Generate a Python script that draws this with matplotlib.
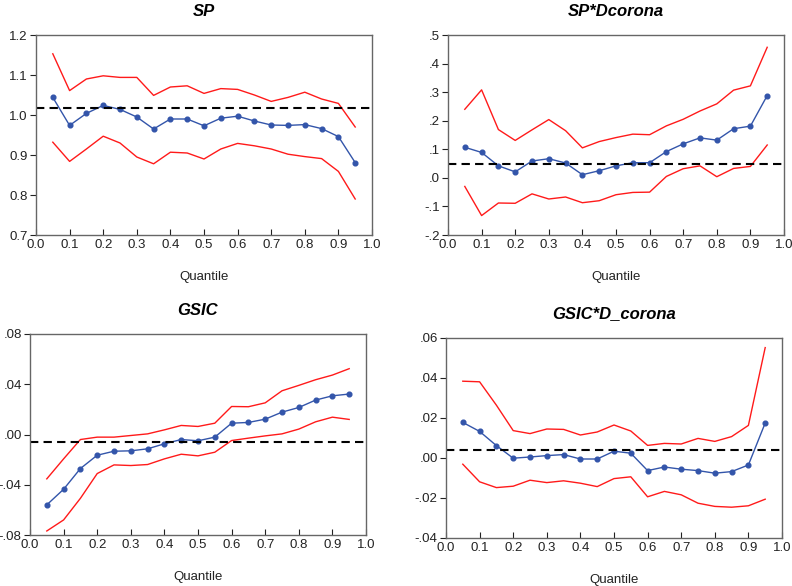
import matplotlib
matplotlib.use("Agg")
import matplotlib.pyplot as plt
from matplotlib.ticker import FuncFormatter

plt.rcParams['font.family'] = ['Liberation Sans', 'DejaVu Sans']

quantiles = [0.05, 0.10, 0.15, 0.20, 0.25, 0.30, 0.35, 0.40, 0.45, 0.50,
             0.55, 0.60, 0.65, 0.70, 0.75, 0.80, 0.85, 0.90, 0.95]

# SP
sp_coef = [1.044, 0.974, 1.004, 1.024, 1.014, 0.995, 0.965, 0.990, 0.990, 0.973,
           0.992, 0.997, 0.985, 0.975, 0.974, 0.976, 0.966, 0.946, 0.881]
sp_upper = [1.153, 1.061, 1.090, 1.098, 1.094, 1.094, 1.049, 1.070, 1.073, 1.054,
            1.066, 1.064, 1.050, 1.034, 1.044, 1.057, 1.040, 1.029, 0.970]
sp_lower = [0.932, 0.884, 0.915, 0.947, 0.930, 0.895, 0.878, 0.907, 0.905, 0.890,
            0.915, 0.929, 0.923, 0.915, 0.902, 0.896, 0.891, 0.859, 0.790]
sp_ols = 1.018

# SP*Dcorona
spd_coef = [0.107, 0.089, 0.042, 0.021, 0.059, 0.067, 0.052, 0.011, 0.025, 0.042,
            0.053, 0.053, 0.092, 0.119, 0.140, 0.132, 0.172, 0.181, 0.288]
spd_upper = [0.240, 0.308, 0.169, 0.131, 0.168, 0.204, 0.165, 0.105, 0.127, 0.141,
             0.153, 0.151, 0.182, 0.205, 0.234, 0.259, 0.307, 0.322, 0.457]
spd_lower = [-0.030, -0.132, -0.088, -0.089, -0.056, -0.074, -0.067, -0.087, -0.080, -0.059,
             -0.051, -0.050, 0.005, 0.032, 0.042, 0.004, 0.033, 0.040, 0.115]
spd_ols = 0.047

# GSIC
gs_coef = [-0.0560, -0.0436, -0.0271, -0.0165, -0.0133, -0.0130, -0.0114, -0.0074, -0.0040, -0.0050,
           -0.0021, 0.0090, 0.0096, 0.0122, 0.0178, 0.0215, 0.0274, 0.0308, 0.0322]
gs_upper = [-0.0353, -0.0194, -0.0040, -0.0021, -0.0021, -0.0008, 0.0005, 0.0037, 0.0072, 0.0064,
            0.0090, 0.0223, 0.0221, 0.0252, 0.0348, 0.0391, 0.0436, 0.0473, 0.0524]
gs_lower = [-0.0768, -0.0680, -0.0508, -0.0311, -0.0242, -0.0247, -0.0239, -0.0194, -0.0157, -0.0170,
            -0.0141, -0.0048, -0.0029, -0.0011, 0.0005, 0.0043, 0.0101, 0.0138, 0.0120]
gs_ols = -0.0058

# GSIC*D_corona
gsd_coef = [0.0178, 0.0133, 0.0062, -0.0001, 0.0005, 0.0012, 0.0017, -0.0005, -0.0005, 0.0034,
            0.0024, -0.0063, -0.0045, -0.0056, -0.0063, -0.0076, -0.0068, -0.0035, 0.0175]
gsd_upper = [0.0384, 0.0381, 0.0264, 0.0137, 0.0122, 0.0145, 0.0143, 0.0115, 0.0130, 0.0165,
             0.0135, 0.0063, 0.0073, 0.0070, 0.0098, 0.0083, 0.0107, 0.0163, 0.0552]
gsd_lower = [-0.0031, -0.0119, -0.0148, -0.0141, -0.0111, -0.0123, -0.0114, -0.0126, -0.0143, -0.0103,
             -0.0094, -0.0194, -0.0167, -0.0184, -0.0226, -0.0242, -0.0246, -0.0239, -0.0206]
gsd_ols = 0.0040

titles = ['SP', 'SP*Dcorona', 'GSIC', 'GSIC*D_corona']
yticks = [[0.7, 0.8, 0.9, 1.0, 1.1, 1.2],
          [-0.2, -0.1, 0.0, 0.1, 0.2, 0.3, 0.4, 0.5],
          [-0.08, -0.04, 0.00, 0.04, 0.08],
          [-0.04, -0.02, 0.00, 0.02, 0.04, 0.06]]
ydigits = [1, 1, 2, 2]
xticks = [0.0, 0.1, 0.2, 0.3, 0.4, 0.5, 0.6, 0.7, 0.8, 0.9, 1.0]

panels = [(sp_coef, sp_upper, sp_lower, sp_ols),
          (spd_coef, spd_upper, spd_lower, spd_ols),
          (gs_coef, gs_upper, gs_lower, gs_ols),
          (gsd_coef, gsd_upper, gsd_lower, gsd_ols)]

# axes boxes in pixels: left, top, right, bottom
boxes = [(36, 35, 372, 235), (448, 35, 784, 235),
         (30, 334, 366, 535), (446, 338, 782, 538)]

W, H = 792, 586
fig = plt.figure(figsize=(W / 100, H / 100), dpi=100)


def eviews_fmt(digits, lead_zero):
    def f(v, pos):
        s = f"{v:.{digits}f}"
        if not lead_zero:
            s = s.replace("0.", ".", 1)
        return s
    return f


for i, (coef, up, lo, ols) in enumerate(panels):
    l, t, r, b = boxes[i]
    ax = fig.add_axes([l / W, 1 - b / H, (r - l) / W, (b - t) / H])
    ax.plot(quantiles, up, color='#ff1a1a', lw=1.0)
    ax.plot(quantiles, lo, color='#ff1a1a', lw=1.0)
    ax.plot(quantiles, coef, color='#3355aa', lw=1.0, marker='o', ms=3.4)
    ax.axhline(ols, color='black', lw=1.5, ls=(0, (4, 2.5)))
    ax.set_xlim(0, 1)
    ax.set_ylim(yticks[i][0], yticks[i][-1])
    ax.set_xticks(xticks)
    ax.set_yticks(yticks[i])
    ax.xaxis.set_major_formatter(FuncFormatter(lambda v, p: f"{v:.1f}"))
    ax.yaxis.set_major_formatter(FuncFormatter(eviews_fmt(ydigits[i], i == 0)))
    ax.tick_params(axis='x', direction='in', length=4, labelsize=9.5, colors='#222222', pad=3)
    ax.tick_params(axis='y', direction='out', length=4, labelsize=9.5, colors='#222222', pad=2)
    for s in ax.spines.values():
        s.set_color('#666666')
        s.set_linewidth(1.0)
    ax.set_title(titles[i], fontsize=12, fontweight='bold', fontstyle='italic', pad=14)
    ax.set_xlabel('Quantile', fontsize=9.5, labelpad=14, color='#222222')

fig.savefig('out.png', dpi=100)
